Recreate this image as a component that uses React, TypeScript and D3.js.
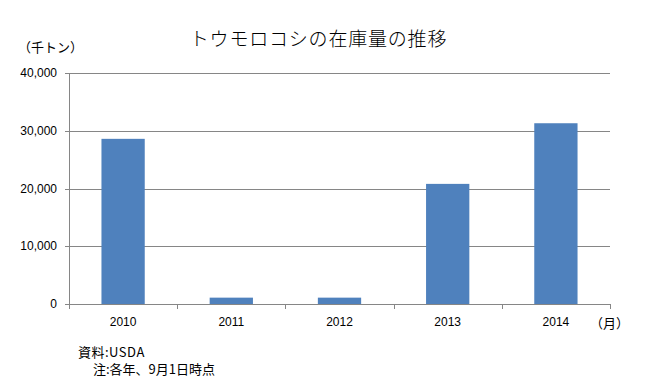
import React from "react";
import * as d3 from "d3";

const years = ["2010", "2011", "2012", "2013", "2014"];
const stocks = [28600, 1100, 1100, 20800, 31300];
const yTicks = [0, 10000, 20000, 30000, 40000];

const W = 653, H = 388;
const M = { left: 69, right: 610, top: 73, bottom: 304 };

export default function App() {
  const x = d3.scaleBand<string>().domain(years).range([M.left, M.right]).paddingInner(0).paddingOuter(0);
  const y = d3.scaleLinear().domain([0, 40000]).range([M.bottom, M.top]);
  const bw = x.bandwidth() * 0.4;
  const fmt = d3.format(",");
  const jp = "'Noto Sans CJK JP', sans-serif";
  const lat = "'Liberation Sans', Arial, sans-serif";
  const grey = "#868686";
  const boundaries = [...years.map((c) => x(c) as number), M.right];
  return (
    <svg width={W} height={H} style={{ position: "absolute", left: 0, top: 0, background: "#fff" }}>
      <text x={318.5} y={46} textAnchor="middle" fontFamily={jp} fontSize={19} fontWeight={300} letterSpacing={0.8} fill="#000">
        トウモロコシの在庫量の推移
      </text>
      <text x={18} y={52} fontFamily={jp} fontSize={13} fill="#000">（千トン）</text>
      {yTicks.map((t) => (
        <g key={t}>
          <line x1={65} x2={M.right} y1={Math.round(y(t)) + 0.5} y2={Math.round(y(t)) + 0.5} stroke={grey} strokeWidth={1} />
          <text x={57} y={y(t) + 4} textAnchor="end" fontFamily={lat} fontSize={12} fill="#000">{fmt(t)}</text>
        </g>
      ))}
      <line x1={M.left + 0.5} x2={M.left + 0.5} y1={M.top} y2={M.bottom} stroke={grey} />
      {boundaries.map((b, i) => (
        <line key={i} x1={Math.round(b) + 0.5} x2={Math.round(b) + 0.5} y1={M.bottom} y2={M.bottom + 5} stroke={grey} />
      ))}
      {years.map((c, i) => {
        const cx = (x(c) as number) + x.bandwidth() / 2;
        return (
          <g key={c}>
            <rect x={cx - bw / 2} y={y(stocks[i])} width={bw} height={M.bottom - y(stocks[i])} fill="#4F81BD" />
            <text x={cx} y={326} textAnchor="middle" fontFamily={lat} fontSize={12} fill="#000">{c}</text>
          </g>
        );
      })}
      <text x={590} y={328} fontFamily={jp} fontSize={13} fill="#000">（月）</text>
      <text x={78} y={357} fontFamily={jp} fontSize={13} fill="#000" letterSpacing={0.5}>資料:USDA</text>
      <text x={93} y={374} fontFamily={jp} fontSize={13} fill="#000">注:各年、9月1日時点</text>
    </svg>
  );
}
